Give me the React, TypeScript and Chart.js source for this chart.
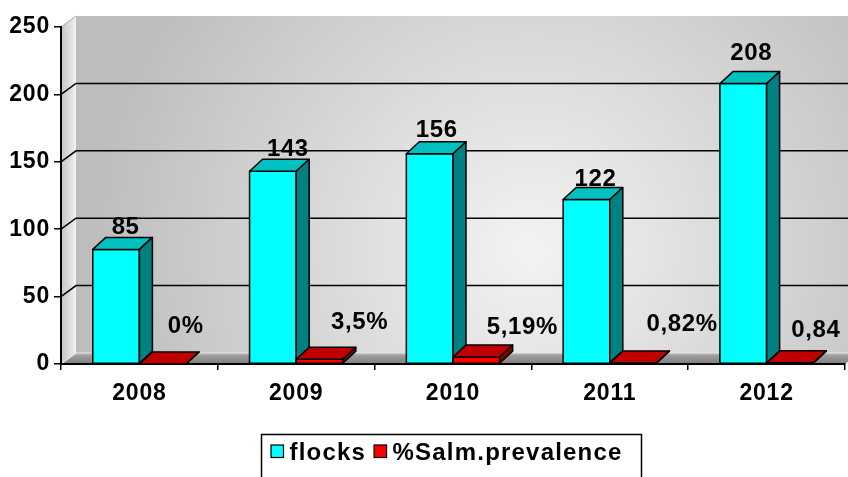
import React, { useEffect, useRef } from 'react';
import { Chart, registerables } from 'chart.js';

Chart.register(...registerables);

const years = ['2008', '2009', '2010', '2011', '2012'];
const flocks = [85, 143, 156, 122, 208];
const prevalence = [0, 3.5, 5.19, 0.82, 0.84];
const flockLabels = ['85', '143', '156', '122', '208'];
const prevalenceLabels = ['0%', '3,5%', '5,19%', '0,82%', '0,84'];
const seriesNames = ['flocks', '%Salm.prevalence'];
const yTicks = [0, 50, 100, 150, 200, 250];

const FONT = '"Liberation Sans", Arial, sans-serif';
const WALL = { dx: 15, dy: -11 };
const DEPTH = { dx: 13, dy: -12 };
const FACES = [
  { front: '#00FFFF', top: '#00C0C0', side: '#008080' },
  { front: '#FF0000', top: '#C00000', side: '#800000' },
];
// label nudges (styling only)
const flockNudge = [[9.5, 0], [15, 0], [7, -2], [9, 1], [8, -9]];
const prevNudge = [[23, -31], [40, -30], [46, -23.5], [49, -32], [26, -26]];

const wallPlugin = {
  id: 'wall3d',
  beforeDraw(chart: any) {
    const { ctx, chartArea: a, scales } = chart;
    const ys = scales.y;
    const L = a.left, R = a.right, T = a.top, B = a.bottom;
    const dx = WALL.dx, dy = WALL.dy;
    ctx.save();
    const g = ctx.createRadialGradient(530, 250, 0, 530, 250, 440);
    g.addColorStop(0, '#f3f3f3');
    g.addColorStop(1, '#bdbdbd');
    ctx.fillStyle = g;
    ctx.fillRect(L + dx, T + dy, R - L, B - T);
    const sg = ctx.createLinearGradient(L, 0, L + dx, 0);
    sg.addColorStop(0, '#c4c4c4');
    sg.addColorStop(0.75, '#e4e4e4');
    sg.addColorStop(1, '#f6f6f6');
    ctx.beginPath();
    ctx.moveTo(L, T);
    ctx.lineTo(L + dx, T + dy);
    ctx.lineTo(L + dx, B + dy);
    ctx.lineTo(L, B);
    ctx.closePath();
    ctx.fillStyle = sg;
    ctx.fill();
    const fg = ctx.createLinearGradient(0, B + dy, 0, B);
    fg.addColorStop(0, '#b8b8b8');
    fg.addColorStop(0.3, '#9a9a9a');
    fg.addColorStop(1, '#808080');
    ctx.beginPath();
    ctx.moveTo(L, B);
    ctx.lineTo(R, B);
    ctx.lineTo(R + dx, B + dy);
    ctx.lineTo(L + dx, B + dy);
    ctx.closePath();
    ctx.fillStyle = fg;
    ctx.fill();
    yTicks.forEach((v) => {
      const py = ys.getPixelForValue(v);
      ctx.beginPath();
      if (v === 0) {
        ctx.strokeStyle = '#e6e6e6';
        ctx.lineWidth = 1.2;
        ctx.moveTo(L, py);
        ctx.lineTo(L + dx, py + dy);
        ctx.lineTo(R + dx, py + dy);
      } else if (v === 250) {
        ctx.strokeStyle = '#a8a8a8';
        ctx.lineWidth = 1;
        ctx.moveTo(L, py);
        ctx.lineTo(L + dx, py + dy);
      } else {
        ctx.strokeStyle = '#000';
        ctx.lineWidth = 1.5;
        ctx.moveTo(L, py);
        ctx.lineTo(L + dx, py + dy);
        ctx.lineTo(R + dx, py + dy);
      }
      ctx.stroke();
    });
    ctx.restore();
    (ctx as any).letterSpacing = '0.8px';
  },
};

const bar3dPlugin = {
  id: 'bar3d',
  afterDatasetsDraw(chart: any) {
    const { ctx } = chart;
    const dx = DEPTH.dx, dy = DEPTH.dy;
    ctx.save();
    ctx.strokeStyle = '#000';
    ctx.lineWidth = 1.5;
    ctx.lineJoin = 'round';
    [0, 1].forEach((di) => {
      const faces = FACES[di];
      chart.getDatasetMeta(di).data.forEach((el: any) => {
        const { x, y, base, width } = el.getProps(['x', 'y', 'base', 'width'], true);
        const l = x - width / 2, r = x + width / 2;
        ctx.fillStyle = faces.front;
        ctx.fillRect(l, y, width, base - y);
        ctx.strokeRect(l, y, width, base - y);
        ctx.beginPath();
        ctx.moveTo(l, y);
        ctx.lineTo(l + dx, y + dy);
        ctx.lineTo(r + dx, y + dy);
        ctx.lineTo(r, y);
        ctx.closePath();
        ctx.fillStyle = faces.top;
        ctx.fill();
        ctx.stroke();
        ctx.beginPath();
        ctx.moveTo(r, y);
        ctx.lineTo(r + dx, y + dy);
        ctx.lineTo(r + dx, base + dy);
        ctx.lineTo(r, base);
        ctx.closePath();
        ctx.fillStyle = faces.side;
        ctx.fill();
        ctx.stroke();
      });
    });
    ctx.restore();
  },
};

const labelsPlugin = {
  id: 'labels3d',
  afterDraw(chart: any) {
    const { ctx } = chart;
    ctx.save();
    ctx.fillStyle = '#000';
    ctx.font = `bold 24px ${FONT}`;
    (ctx as any).letterSpacing = '0.6px';
    ctx.textAlign = 'center';
    ctx.textBaseline = 'alphabetic';
    const m0 = chart.getDatasetMeta(0);
    m0.data.forEach((el: any, i: number) => {
      const { x, y } = el.getProps(['x', 'y'], true);
      ctx.fillText(flockLabels[i], x + flockNudge[i][0], y - 15 + flockNudge[i][1]);
    });
    const m1 = chart.getDatasetMeta(1);
    m1.data.forEach((el: any, i: number) => {
      const { x, y } = el.getProps(['x', 'y'], true);
      ctx.fillText(prevalenceLabels[i], x + prevNudge[i][0], y + prevNudge[i][1]);
    });
    ctx.restore();
  },
};

const legendPlugin = {
  id: 'legendBox',
  afterDraw(chart: any) {
    const { ctx } = chart;
    const box = { x: 261.5, y: 434.5, w: 380, h: 50 };
    ctx.save();
    ctx.fillStyle = '#fff';
    ctx.fillRect(box.x, box.y, box.w, box.h);
    ctx.strokeStyle = '#000';
    ctx.lineWidth = 1.5;
    ctx.strokeRect(box.x, box.y, box.w, box.h);
    ctx.font = `bold 24px ${FONT}`;
    (ctx as any).letterSpacing = '1.2px';
    ctx.textBaseline = 'alphabetic';
    ctx.textAlign = 'left';
    let cx = box.x + 9.5;
    const mk = 12.5;
    seriesNames.forEach((name, i) => {
      ctx.fillStyle = FACES[i].front;
      ctx.fillRect(cx, 445, mk, mk);
      ctx.lineWidth = 1.2;
      ctx.strokeStyle = '#000';
      ctx.strokeRect(cx, 445, mk, mk);
      const tx = cx + mk + 6;
      ctx.fillStyle = '#000';
      ctx.fillText(name, tx, 459.5);
      cx = tx + ctx.measureText(name).width + 8;
    });
    ctx.restore();
  },
};

export default function App() {
  const ref = useRef<HTMLCanvasElement | null>(null);
  useEffect(() => {
    if (!ref.current) return;
    const tickFont = { family: FONT, size: 23, weight: 'bold' as const };
    const chart = new Chart(ref.current, {
      type: 'bar',
      data: {
        labels: years,
        datasets: [
          {
            label: seriesNames[0],
            data: flocks,
            backgroundColor: FACES[0].front,
            borderWidth: 0,
            categoryPercentage: 0.595,
            barPercentage: 1,
          },
          {
            label: seriesNames[1],
            data: prevalence,
            backgroundColor: FACES[1].front,
            borderWidth: 0,
            categoryPercentage: 0.595,
            barPercentage: 1,
          },
        ],
      },
      options: {
        responsive: false,
        animation: false,
        devicePixelRatio: 1,
        layout: { padding: { left: 0, top: 27, right: 3, bottom: 68 } },
        plugins: { legend: { display: false }, tooltip: { enabled: false } },
        scales: {
          x: {
            grid: { drawOnChartArea: false, drawTicks: true, tickLength: 6, color: '#000', lineWidth: 1.5, offset: true },
            border: { color: '#000', width: 2 },
            ticks: { color: '#000', font: tickFont, padding: 10, maxRotation: 0 },
            afterFit: (s: any) => { s.height = 45; },
          },
          y: {
            min: 0,
            max: 250,
            ticks: { stepSize: 50, color: '#000', font: tickFont, padding: 4 },
            grid: { drawOnChartArea: false, drawTicks: true, tickLength: 7, color: '#000', lineWidth: 1.5 },
            border: { color: '#000', width: 2 },
            afterFit: (s: any) => { s.width = 61; },
          },
        },
      },
      plugins: [wallPlugin, bar3dPlugin, labelsPlugin, legendPlugin],
    });
    return () => chart.destroy();
  }, []);
  return (
    <div style={{ position: 'absolute', left: 0, top: 0, width: 848, height: 477, background: '#fff' }}>
      <canvas ref={ref} width={848} height={477} style={{ display: 'block', width: 848, height: 477 }} />
    </div>
  );
}
